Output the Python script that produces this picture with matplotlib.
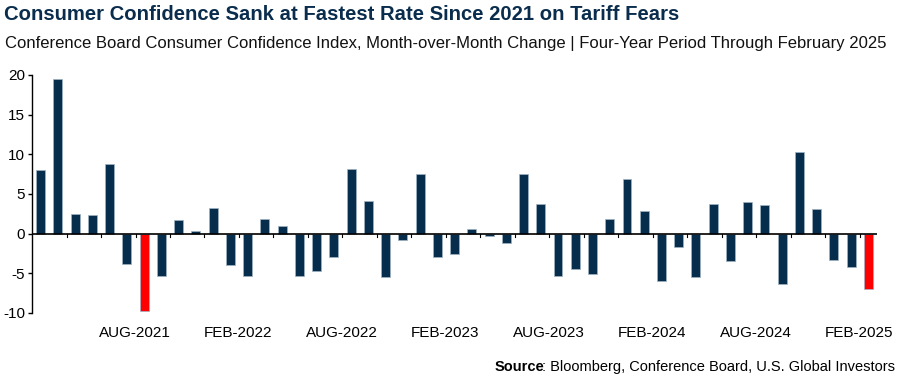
import matplotlib
matplotlib.use("Agg")
import matplotlib.pyplot as plt
from matplotlib import font_manager

# ---- data ----
months = ["FEB-2021", "MAR-2021", "APR-2021", "MAY-2021", "JUN-2021", "JUL-2021",
          "AUG-2021", "SEP-2021", "OCT-2021", "NOV-2021", "DEC-2021", "JAN-2022",
          "FEB-2022", "MAR-2022", "APR-2022", "MAY-2022", "JUN-2022", "JUL-2022",
          "AUG-2022", "SEP-2022", "OCT-2022", "NOV-2022", "DEC-2022", "JAN-2023",
          "FEB-2023", "MAR-2023", "APR-2023", "MAY-2023", "JUN-2023", "JUL-2023",
          "AUG-2023", "SEP-2023", "OCT-2023", "NOV-2023", "DEC-2023", "JAN-2024",
          "FEB-2024", "MAR-2024", "APR-2024", "MAY-2024", "JUN-2024", "JUL-2024",
          "AUG-2024", "SEP-2024", "OCT-2024", "NOV-2024", "DEC-2024", "JAN-2025",
          "FEB-2025"]
changes = [8.0, 19.5, 2.5, 2.4, 8.8, -3.8, -9.8, -5.3, 1.7, 0.3, 3.2, -4.0,
           -5.3, 1.8, 1.0, -5.3, -4.7, -3.0, 8.2, 4.1, -5.5, -0.8, 7.5, -3.0,
           -2.6, 0.6, -0.3, -1.2, 7.5, 3.8, -5.3, -4.4, -5.1, 1.8, 6.9, 2.8,
           -6.0, -1.7, -5.5, 3.7, -3.5, 4.0, 3.6, -6.3, 10.3, 3.1, -3.3, -4.2,
           -7.0]
highlight = ["AUG-2021", "FEB-2025"]
xtick_labels = ["AUG-2021", "FEB-2022", "AUG-2022", "FEB-2023", "AUG-2023",
                "FEB-2024", "AUG-2024", "FEB-2025"]
yticks = [-10, -5, 0, 5, 10, 15, 20]

NAVY = "#062e4c"
RED = "#ff0000"

avail = {f.name for f in font_manager.fontManager.ttflist}
regular = "Liberation Sans" if "Liberation Sans" in avail else "DejaVu Sans"

fig = plt.figure(figsize=(9, 3.78), dpi=100)
ax = fig.add_axes([0.0356, 0.172, 0.9389, 0.6296])

x = list(range(len(months)))
colors = [RED if m in highlight else NAVY for m in months]
ax.bar(x, changes, width=0.52, color=colors, edgecolor="#9fb3c4", linewidth=0.5, zorder=2)

ax.set_xlim(-0.5, len(months) - 0.5)
ax.set_ylim(-10, 20)

ax.axhline(0, color="black", linewidth=1.2, zorder=3)

for s in ["top", "right", "bottom"]:
    ax.spines[s].set_visible(False)
ax.spines["left"].set_linewidth(1.0)

ax.set_yticks(yticks)
ax.set_yticklabels([str(v) for v in yticks], fontsize=11, family=regular)
ax.tick_params(axis="y", direction="out", length=3, width=1, pad=2)

# x tick marks (every 2 months at bar boundaries, below zero line)
ax.set_xticks([])
for i in range(1, len(months), 2):
    ax.plot([i + 0.5, i + 0.5], [0, -0.4], color="black", linewidth=0.8, zorder=3)

for lab in xtick_labels:
    i = months.index(lab)
    ax.text(i - 0.55, -12.5, lab, ha="center", va="center", fontsize=11, family=regular,
            color="black")

title = fig.text(0.004, 0.962, "Consumer Confidence Sank at Fastest Rate Since 2021 on Tariff Fears",
                 ha="left", va="center", fontsize=14, fontweight="bold", family=regular,
                 color="#0a2d4d")
subtitle = fig.text(0.006, 0.885, "Conference Board Consumer Confidence Index, Month-over-Month Change | Four-Year Period Through February 2025",
                    ha="left", va="center", fontsize=12, family=regular, color="#111111")

fig.text(0.549, 0.03, "Source", ha="left", va="center", fontsize=10.5,
         fontweight="bold", family=regular, color="black")
fig.text(0.994, 0.03, ": Bloomberg, Conference Board, U.S. Global Investors",
         ha="right", va="center", fontsize=10.5, family=regular, color="black")

# fit title/subtitle widths to reference extents
renderer = fig.canvas.get_renderer()
for t, target in [(title, 677), (subtitle, 885)]:
    for _ in range(3):
        w = t.get_window_extent(renderer).width
        t.set_fontsize(t.get_fontsize() * target / w)

fig.savefig("out.png", dpi=100)
